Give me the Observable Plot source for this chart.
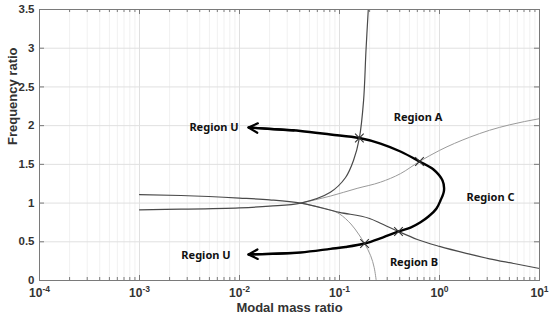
<!DOCTYPE html>
<html><head><meta charset="utf-8">
<script src="https://cdn.jsdelivr.net/npm/d3@7"></script>
<script src="https://cdn.jsdelivr.net/npm/@observablehq/plot@0.6"></script>
<style>
body{margin:0;background:#fff}
</style>
</head><body><div id="chart"></div>
<script>
// Axis ticks
const xTicks = [1e-4, 1e-3, 1e-2, 1e-1, 1, 10];
const xTickExponents = ["-4", "-3", "-2", "-1", "0", "1"];
const yTicks = [0, 0.5, 1, 1.5, 2, 2.5, 3, 3.5];
const yTickLabels = ["0", "0.5", "1", "1.5", "2", "2.5", "3", "3.5"];
const minorX = d3.range(-4, 1).flatMap(e => d3.range(2, 10).map(k => k * 10 ** e));

// Dark curve starting at 1.1 and falling
const c1X = [0.001, 0.0026, 0.01, 0.02, 0.041, 0.1, 0.2, 0.257, 0.389, 0.6, 1, 2, 3.16, 5.5, 10];
const c1Y = [1.11, 1.098, 1.065, 1.042, 1.0, 0.88, 0.80, 0.74, 0.633, 0.53, 0.44, 0.34, 0.28, 0.22, 0.155];
// Dark curve starting at 0.91 and rising to infinity
const c2X = [0.001, 0.0026, 0.01, 0.02, 0.041, 0.081, 0.115, 0.138, 0.158, 0.174, 0.184, 0.194];
const c2Y = [0.913, 0.921, 0.939, 0.96, 1.0, 1.14, 1.33, 1.55, 1.84, 2.32, 2.97, 3.5];
// Light curve rising
const c3X = [0.041, 0.081, 0.15, 0.257, 0.407, 0.631, 1, 2, 3.16, 5, 10];
const c3Y = [1.0, 1.09, 1.19, 1.27, 1.38, 1.537, 1.68, 1.85, 1.94, 2.01, 2.09];
// Light curve falling
const c4X = [0.041, 0.081, 0.1, 0.13, 0.155, 0.178, 0.205, 0.222, 0.233];
const c4Y = [1.0, 0.91, 0.86, 0.73, 0.60, 0.478, 0.32, 0.17, 0];
// Thick boundary curve
const bX = [0.0123, 0.0204, 0.0407, 0.0813, 0.158, 0.257, 0.407, 0.631, 0.871, 1.072, 1.109, 1.023, 0.933, 0.776, 0.646, 0.513, 0.389, 0.269, 0.178, 0.115, 0.0813, 0.0407, 0.0123];
const bY = [1.976, 1.957, 1.931, 1.886, 1.840, 1.769, 1.666, 1.537, 1.434, 1.291, 1.162, 1.033, 0.930, 0.827, 0.753, 0.684, 0.633, 0.555, 0.478, 0.433, 0.409, 0.362, 0.336];
// Crossing markers
const mX = [0.158, 0.631, 0.389, 0.178];
const mY = [1.84, 1.537, 0.633, 0.478];
// Arrows (tail -> tip)
const aX1 = [0.035, 0.035];
const aY1 = [1.94, 0.355];
const aX2 = [0.0123, 0.0123];
const aY2 = [1.976, 0.336];
// Region labels
const labels = ["Region U", "Region U", "Region A", "Region C", "Region B"];
const labelX = [0.00556, 0.00462, 0.61, 3.24, 0.556];
const labelY = [1.98, 0.323, 2.10, 1.076, 0.236];

const zip = (xs, ys) => xs.map((x, i) => ({x, y: ys[i]}));
const arrows = aX1.map((x1, i) => ({x1, y1: aY1[i], x2: aX2[i], y2: aY2[i]}));
const labelData = labels.map((t, i) => ({t, x: labelX[i], y: labelY[i]}));

const innerW = 550 - 39 - 11, innerH = 321 - 9 - 41;
const axisColor = "#7a7a7a";

const plot = Plot.plot({
  width: 550, height: 321,
  marginLeft: 39, marginRight: 11, marginTop: 9, marginBottom: 41,
  x: {type: "log", domain: [1e-4, 10]},
  y: {domain: [0, 3.5]},
  style: {background: "#fff", fontFamily: "'Liberation Sans', Arial, sans-serif"},
  marks: [
    Plot.ruleX(minorX, {stroke: "#f1f1f1"}),
    Plot.ruleX(xTicks, {stroke: "#e0e0e0"}),
    Plot.ruleY(yTicks, {stroke: "#e0e0e0"}),
    Plot.line(zip(c3X, c3Y), {x: "x", y: "y", stroke: "#9a9a9a", strokeWidth: 1, curve: "monotone-x"}),
    Plot.line(zip(c4X, c4Y), {x: "x", y: "y", stroke: "#9a9a9a", strokeWidth: 1, curve: "catmull-rom"}),
    Plot.line(zip(c1X, c1Y), {x: "x", y: "y", stroke: "#4a4a4a", strokeWidth: 1.2, curve: "monotone-x"}),
    Plot.line(zip(c2X, c2Y), {x: "x", y: "y", stroke: "#4a4a4a", strokeWidth: 1.2, curve: "catmull-rom"}),
    Plot.line(zip(bX, bY), {x: "x", y: "y", stroke: "#000", strokeWidth: 2.4, curve: "catmull-rom", strokeLinecap: "round"}),
    Plot.arrow(arrows, {x1: "x1", y1: "y1", x2: "x2", y2: "y2", stroke: "#000", strokeWidth: 2.2, headLength: 7, headAngle: 55}),
    Plot.dot(zip(mX, mY), {x: "x", y: "y", symbol: "times", r: 4, stroke: "#333", strokeWidth: 1.1}),
    Plot.frame({stroke: axisColor}),
    // inward ticks: bottom & top
    Plot.ruleX(minorX, {stroke: axisColor, insetTop: innerH - 3}),
    Plot.ruleX(minorX, {stroke: axisColor, insetBottom: innerH - 3}),
    Plot.ruleX(xTicks, {stroke: axisColor, insetTop: innerH - 5}),
    Plot.ruleX(xTicks, {stroke: axisColor, insetBottom: innerH - 5}),
    // inward ticks: left & right
    Plot.ruleY(yTicks, {stroke: axisColor, insetRight: innerW - 5}),
    Plot.ruleY(yTicks, {stroke: axisColor, insetLeft: innerW - 5}),
    Plot.axisX(xTicks, {tickSize: 0, tickPadding: 8, label: null, fontSize: 12, fontWeight: "bold", fill: "#333",
      tickFormat: d => "10^" + xTickExponents[xTicks.indexOf(d)]}),
    Plot.axisY(yTicks, {tickSize: 0, tickPadding: 5, label: null, fontSize: 11.5, fontWeight: "bold", fill: "#333",
      tickFormat: d => yTickLabels[yTicks.indexOf(d)]}),
    Plot.text(["Modal mass ratio"], {frameAnchor: "bottom", dy: 31, fontSize: 13, fontWeight: "bold", fill: "#333"}),
    Plot.text(["Frequency ratio"], {frameAnchor: "left", dx: -27, rotate: -90, fontSize: 13, fontWeight: "bold", fill: "#333"}),
    Plot.text(labelData, {x: "x", y: "y", text: "t", fontSize: 11, fontWeight: "bold", fill: "#111",
      fontFamily: "'Noto Sans', sans-serif"})
  ]
});

// superscript exponents on log-axis tick labels
plot.querySelectorAll('[aria-label="x-axis tick label"] text').forEach(t => {
  const s = t.textContent;
  if (!s.startsWith("10^")) return;
  const exp = s.slice(3);
  t.textContent = "10";
  const ts = document.createElementNS("http://www.w3.org/2000/svg", "tspan");
  ts.setAttribute("dy", "-5");
  ts.setAttribute("font-size", "8.5");
  ts.textContent = exp;
  t.appendChild(ts);
});

document.getElementById("chart").appendChild(plot);
</script>
</body></html>
